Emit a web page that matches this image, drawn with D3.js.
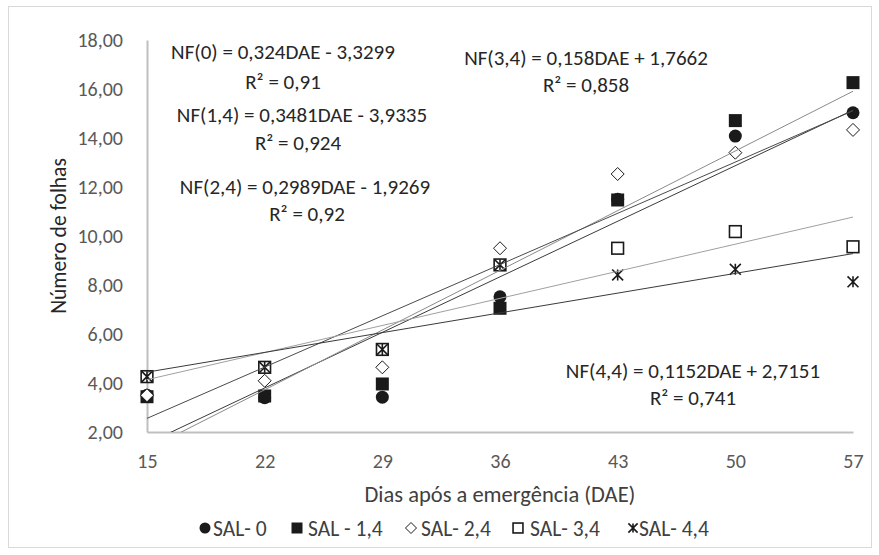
<!DOCTYPE html>
<html><head><meta charset="utf-8">
<script src="https://cdn.jsdelivr.net/npm/d3@7"></script>
<style>
html,body{margin:0;padding:0;background:#fff;}
svg{display:block;font-family:Carlito,Calibri,Lato,sans-serif;}
</style></head>
<body>
<svg id="chart" width="879" height="555"></svg>
<script>
// ---- data ----
const dae = [15, 22, 29, 36, 43, 50, 57];
const seriesNames = ["SAL- 0", "SAL - 1,4", "SAL- 2,4", "SAL- 3,4", "SAL- 4,4"];
const sal0  = [3.50, 3.40, 3.42, 7.52, 11.50, 14.08, 15.03];
const sal14 = [3.44, 3.47, 3.96, 7.05, 11.47, 14.71, 16.26];
const sal24 = [3.50, 4.09, 4.64, 9.50, 12.53, 13.40, 14.33];
const sal34 = [4.26, 4.64, 5.37, 8.82, 9.50, 10.18, 9.56];
const sal44 = [4.26, 4.64, 5.37, 8.82, 8.41, 8.64, 8.13];
const slopes = [0.324, 0.3481, 0.2989, 0.158, 0.1152];
const intercepts = [-3.3299, -3.9335, -1.9269, 1.7662, 2.7151];
const eqLabels = ["NF(0) = 0,324DAE - 3,3299", "NF(1,4) = 0,3481DAE - 3,9335", "NF(2,4) = 0,2989DAE - 1,9269", "NF(3,4) = 0,158DAE + 1,7662", "NF(4,4) = 0,1152DAE + 2,7151"];
const r2Labels = ["R² = 0,91", "R² = 0,924", "R² = 0,92", "R² = 0,858", "R² = 0,741"];
const yTicks = [2, 4, 6, 8, 10, 12, 14, 16, 18];
const xTicks = dae;
const xTitle = "Dias após a emergência (DAE)";
const yTitle = "Número de folhas";

// ---- layout ----
const svg = d3.select("#chart");
const plot = {left: 147, right: 853, top: 40, bottom: 432};
const x = d3.scaleLinear().domain([15, 57]).range([plot.left, plot.right]);
const y = d3.scaleLinear().domain([2, 18]).range([plot.bottom, plot.top]);
const allSeries = [sal0, sal14, sal24, sal34, sal44];
const markerTypes = ["circle", "square", "diamond", "osquare", "asterisk"];
const lineColors = ["#3a3a3a", "#8a8a8a", "#4a4a4a", "#a0a0a0", "#3a3a3a"];
const eqPos = [[283, 52, 283, 82], [302, 115, 298, 143], [305, 187, 307, 214], [586, 58, 586, 85], [693, 371, 693, 398]];
const legendPos = [[205, 213], [297, 308], [411, 421], [518, 530], [633, 639]];
const FONT = "Carlito,Calibri,Lato,sans-serif";

svg.append("rect").attr("x", 8.5).attr("y", 6.5).attr("width", 863).attr("height", 541)
  .attr("fill", "#fff").attr("stroke", "#d9d9d9").attr("stroke-width", 1);

// axes
const fmt = d => d3.format(".2f")(d).replace(".", ",");
const yAxis = svg.append("g").attr("transform", `translate(${plot.left},0)`)
  .call(d3.axisLeft(y).tickValues(yTicks).tickSize(0).tickPadding(24).tickFormat(fmt));
yAxis.select(".domain").attr("stroke", "#bfbfbf").attr("stroke-width", 2);
yAxis.selectAll("text").attr("font-size", 20).attr("fill", "#595959").attr("font-family", FONT);

const xAxis = svg.append("g").attr("transform", `translate(0,${plot.bottom})`)
  .call(d3.axisBottom(x).tickValues(xTicks).tickSize(0).tickFormat(d3.format("d")));
xAxis.select(".domain").attr("stroke", "#bfbfbf").attr("stroke-width", 2);
xAxis.selectAll("text").attr("y", 29).attr("dy", "0.35em").attr("font-size", 20).attr("fill", "#595959").attr("font-family", FONT);

// titles
svg.append("text").attr("x", (plot.left + plot.right) / 2).attr("y", 494).attr("dy", "0.35em")
  .attr("text-anchor", "middle").attr("font-size", 22.5).attr("fill", "#404040").text(xTitle);
svg.append("text").attr("transform", "translate(58,236) rotate(-90)").attr("dy", "0.35em")
  .attr("text-anchor", "middle").attr("font-size", 21.5).attr("fill", "#262626").text(yTitle);

// markers
function drawMarker(g, type, cx, cy, s) {
  if (type === "circle") {
    g.append("circle").attr("cx", cx).attr("cy", cy).attr("r", s * 0.5).attr("fill", "#1a1a1a");
  } else if (type === "square") {
    g.append("rect").attr("x", cx - s / 2).attr("y", cy - s / 2).attr("width", s).attr("height", s).attr("fill", "#1a1a1a");
  } else if (type === "diamond") {
    const h = s * 0.5;
    g.append("path").attr("d", `M${cx},${cy - h}L${cx + h},${cy}L${cx},${cy + h}L${cx - h},${cy}Z`)
      .attr("fill", "#fff").attr("stroke", "#1a1a1a").attr("stroke-width", 1);
  } else if (type === "osquare") {
    const h = s * 0.45;
    g.append("rect").attr("x", cx - h).attr("y", cy - h).attr("width", 2 * h).attr("height", 2 * h)
      .attr("fill", "#fff").attr("stroke", "#1a1a1a").attr("stroke-width", 1.6);
  } else if (type === "asterisk") {
    const h = s * 0.42;
    g.append("path").attr("d", `M${cx - h},${cy - h}L${cx + h},${cy + h}M${cx + h},${cy - h}L${cx - h},${cy + h}M${cx},${cy - h}L${cx},${cy + h}`)
      .attr("fill", "none").attr("stroke", "#1a1a1a").attr("stroke-width", 1.6);
  }
}

const markerG = svg.append("g");
allSeries.forEach((vals, i) => {
  vals.forEach((v, j) => drawMarker(markerG, markerTypes[i], x(dae[j]), y(v), 13));
});

// trendlines
svg.append("clipPath").attr("id", "clip").append("rect")
  .attr("x", plot.left).attr("y", plot.top - 20).attr("width", plot.right - plot.left).attr("height", plot.bottom - plot.top + 20);
const lineG = svg.append("g").attr("clip-path", "url(#clip)");
slopes.forEach((m, i) => {
  const f = d => m * d + intercepts[i];
  lineG.append("line").attr("x1", x(15)).attr("y1", y(f(15))).attr("x2", x(57)).attr("y2", y(f(57)))
    .attr("stroke", lineColors[i]).attr("stroke-width", 1);
});

// equations
eqLabels.forEach((t, i) => {
  const p = eqPos[i];
  svg.append("text").attr("x", p[0]).attr("y", p[1]).attr("dy", "0.35em").attr("text-anchor", "middle")
    .attr("font-size", 21).attr("fill", "#262626").text(t);
  svg.append("text").attr("x", p[2]).attr("y", p[3]).attr("dy", "0.35em").attr("text-anchor", "middle")
    .attr("font-size", 21).attr("fill", "#262626").text(r2Labels[i]);
});

// legend
const legendG = svg.append("g");
seriesNames.forEach((n, i) => {
  const p = legendPos[i];
  drawMarker(legendG, markerTypes[i], p[0], 528, 11);
  legendG.append("text").attr("x", p[1]).attr("y", 528).attr("dy", "0.35em")
    .attr("font-size", 21.5).attr("fill", "#404040").text(n);
});
</script>
</body></html>
